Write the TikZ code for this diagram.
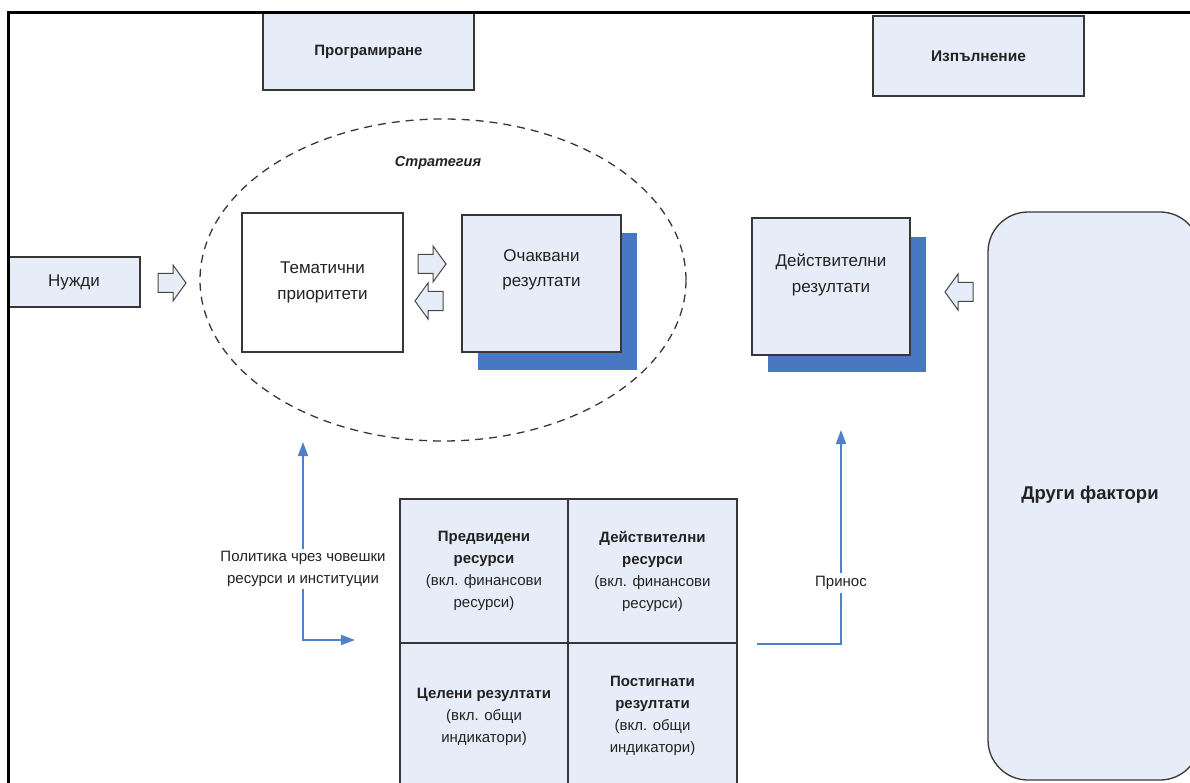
\documentclass[tikz,border=0pt]{standalone}
\usepackage{fontspec}
\setmainfont{Liberation Sans}
\usetikzlibrary{arrows.meta}
\usetikzlibrary{shapes.geometric}
\usetikzlibrary{positioning}
\definecolor{boxfill}{RGB}{231,237,248}
\definecolor{boxline}{RGB}{55,55,55}
\definecolor{shadowfill}{RGB}{72,120,194}
\definecolor{linkblue}{RGB}{79,129,200}

\begin{document}
\begin{tikzpicture}[x=1pt,y=1pt,yscale=-1,
  every node/.style={text={rgb,255:red,34;green,34;blue,34}},
  txt/.style={font=\fontsize{17}{25.5}\selectfont, align=center, inner sep=1},
  celltxt/.style={font=\fontsize{15}{22}\selectfont, align=center},
  bluebox/.style={draw=boxline, line width=1.3, fill=boxfill, inner sep=0, align=center},
  whitebox/.style={draw=boxline, line width=1.3, fill=white, inner sep=0, align=center},
  hollow/.style={draw={rgb,255:red,70;green,70;blue,70}, line width=1, fill=boxfill, line join=miter},
  bluelink/.style={draw=linkblue, line width=1.6, -{Triangle[length=14,width=10]}}]
\useasboundingbox (0,0) rectangle (1190,783);
\clip (0,0) rectangle (1190,783);

%Header boxes
\node[bluebox, minimum width=211, minimum height=77, font=\fontsize{15}{17}\selectfont\bfseries] (prog) at (368.5,51.5) {Програмиране};
\node[bluebox, minimum width=211, minimum height=80, font=\fontsize{15.5}{17}\selectfont\bfseries] (izpal) at (978.5,56) {Изпълнение};

%Strategy ellipse
\node[ellipse, draw=boxline, line width=1.3, dash pattern=on 8pt off 6pt, minimum width=486, minimum height=322, inner sep=0] (strat) at (443,280) {};
\node[font=\fontsize{14.5}{16}\selectfont\bfseries\itshape] (strat-t) at (438,163) {Стратегия};

%Needs
\node[bluebox, txt, minimum width=132, minimum height=50] (nuzhdi) at (74,282) {Нужди};

%Thematic priorities
\node[whitebox, txt, minimum width=161, minimum height=139] (tema) at (322.5,282.5) {Тематични\\приоритети};

%Expected results with shadow
\fill[shadowfill] (478,233) rectangle (637,370);
\node[bluebox, minimum width=159, minimum height=137] (ochak) at (541.5,283.5) {};
\node[txt] (ochak-t) at (541.5,270) {Очаквани\\резултати};

%Actual results with shadow
\fill[shadowfill] (768,237) rectangle (926,372);
\node[bluebox, minimum width=158, minimum height=137] (deistv) at (831,286.5) {};
\node[txt] (deistv-t) at (831,275) {Действителни\\резултати};

%Other factors
\node[bluebox, rounded corners=40, minimum width=212, minimum height=568] (drugi) at (1094,496) {};
\node[font=\fontsize{18.5}{20}\selectfont\bfseries] (drugi-t) at (1090,495) {Други фактори};

%Hollow arrows
\draw[hollow, shift={(158,283)}] (0,-9.5) -- (15,-9.5) -- (15,-18) -- (28,0) -- (15,18) -- (15,9.5) -- (0,9.5) -- cycle;
\draw[hollow, shift={(418,264)}] (0,-9.5) -- (15,-9.5) -- (15,-18) -- (28,0) -- (15,18) -- (15,9.5) -- (0,9.5) -- cycle;
\draw[hollow, shift={(443,301)}, xscale=-1] (0,-9.5) -- (15,-9.5) -- (15,-18) -- (28,0) -- (15,18) -- (15,9.5) -- (0,9.5) -- cycle;
\draw[hollow, shift={(973,292)}, xscale=-1] (0,-9.5) -- (15,-9.5) -- (15,-18) -- (28,0) -- (15,18) -- (15,9.5) -- (0,9.5) -- cycle;

%Resources / results grid
\node[bluebox, minimum width=168, minimum height=144] (plan-res) at (484,571) {};
\node[bluebox, minimum width=169, minimum height=144] (act-res) at (652.5,571) {};
\node[bluebox, minimum width=168, minimum height=144] (target-res) at (484,715) {};
\node[bluebox, minimum width=169, minimum height=144] (ach-res) at (652.5,715) {};
\node[celltxt] (plan-res-t) at (plan-res) {\textbf{Предвидени}\\\textbf{ресурси}\\(вкл. финансови\\ресурси)};
\node[celltxt] (act-res-t) at (act-res) {\textbf{Действителни}\\\textbf{ресурси}\\(вкл. финансови\\ресурси)};
\node[celltxt] (target-res-t) at (484,717) {\textbf{Целени резултати}\\(вкл. общи\\индикатори)};
\node[celltxt] (ach-res-t) at (652.5,716) {\textbf{Постигнати}\\\textbf{резултати}\\(вкл. общи\\индикатори)};

%Blue links
\coordinate (pol-top) at (303,442);
\coordinate (pol-end) at (355,640);
\draw[bluelink, {Triangle[length=14,width=10]}-{Triangle[length=14,width=10]}] (pol-top) |- (pol-end);
\node[celltxt, fill=white, inner sep=2] (politika) at (303,569) {Политика чрез човешки\\ресурси и институции};

\coordinate (prinos-start) at (757,644);
\coordinate (prinos-top) at (841,430);
\draw[bluelink] (prinos-start) -| (prinos-top);
\node[celltxt, fill=white, inner sep=3] (prinos) at (841,583) {Принос};

%Frame
\draw[line width=3] (8,800) -- (8,13) -- (1200,13);

\end{tikzpicture}
\end{document}
